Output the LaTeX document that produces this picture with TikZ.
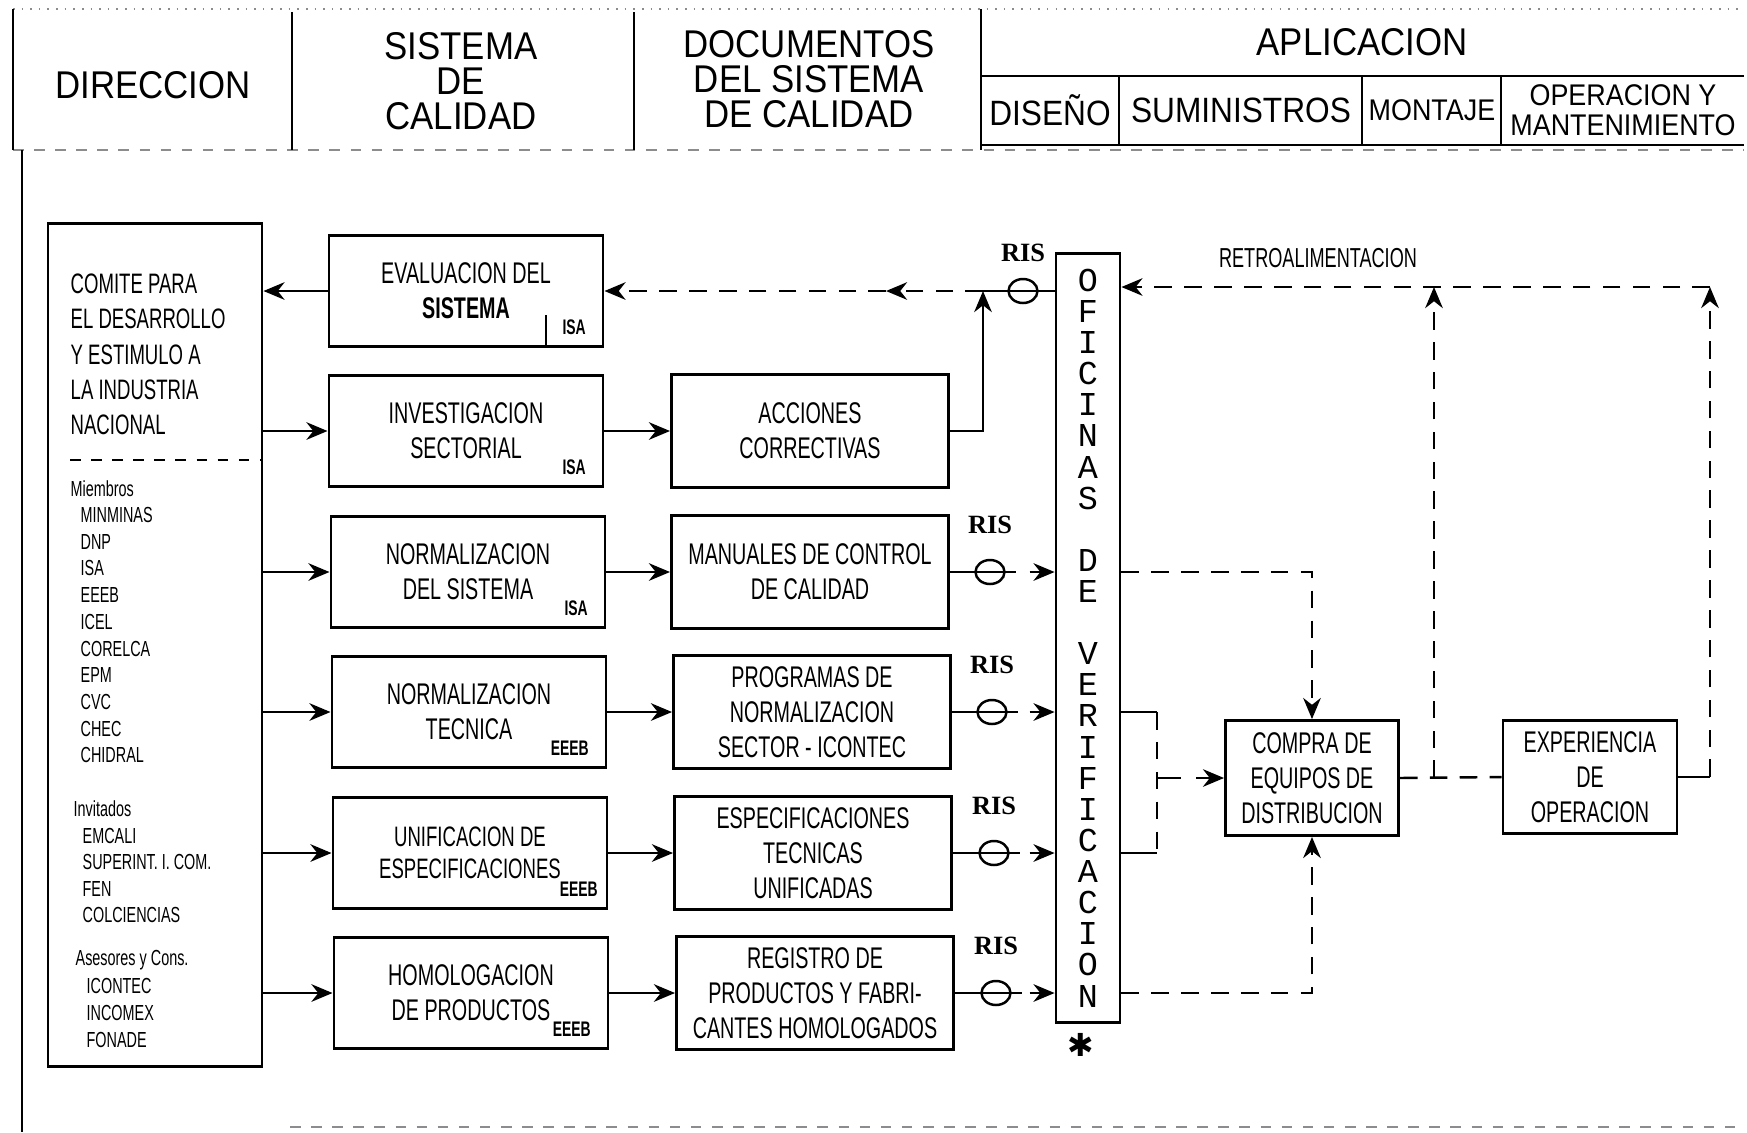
\documentclass[tikz,border=0pt]{standalone}
\usepackage{fontspec}
\setmainfont{Liberation Sans}
\newfontfamily\plotfont{Liberation Sans}[FakeStretch=0.66]
\newfontfamily\headfont{Liberation Sans}[FakeStretch=0.9]
\newfontfamily\ofifont{Liberation Mono}
\newfontfamily\risfont{Liberation Serif}
\newfontfamily\symfont{DejaVu Sans}
\usetikzlibrary{arrows.meta,positioning,shapes.geometric}
\tikzset{
  box/.style={draw,line width=0.8pt,inner sep=0pt,align=center,minimum width=2.74cm,minimum height=1.11cm,font=\plotfont\fontsize{8.5}{10}\selectfont},
  doc/.style={box,minimum width=2.77cm,minimum height=1.13cm},
  tag/.style={inner sep=0pt,font=\plotfont\bfseries\fontsize{6}{6}\selectfont},
  hd/.style={inner sep=0pt,align=center,font=\headfont\fontsize{11}{10}\selectfont},
  sub/.style={inner sep=0pt,align=center,font=\headfont\fontsize{10}{8.5}\selectfont},
  lst/.style={inner sep=0pt,anchor=west,font=\plotfont\fontsize{6.2}{7}\selectfont},
  cmt/.style={inner sep=0pt,anchor=west,font=\plotfont\fontsize{8}{10}\selectfont},
  ris/.style={draw,ellipse,line width=0.7pt,minimum width=0.29cm,minimum height=0.24cm,inner sep=0pt},
  rislab/.style={inner sep=0pt,font=\risfont\bfseries\fontsize{7.5}{8}\selectfont},
  ln/.style={line width=0.7pt},
  hair/.style={line width=0.45pt},
  arr/.style={ln,-{Stealth[length=6pt,width=5pt]}},
  dsh/.style={ln,dash pattern=on 5pt off 3.5pt},
}
\begin{document}
\begin{tikzpicture}[x=0.01cm,y=-0.01cm]
  \useasboundingbox (0,0) rectangle (1747,1132);
  \draw[hair,black!45,dotted] (13,9) -- (1744,9);
  \draw[hair,black!45,dashed] (13,150) -- (1744,150);
  \draw[hair] (13,9) -- (13,150);
  \draw[ln] (292,12) -- (292,150);
  \draw[ln] (634,12) -- (634,150);
  \draw[hair] (981,9) -- (981,150);
  \draw[hair] (981,76) -- (1744,76);
  \draw[hair] (981,145) -- (1744,145);
  \foreach \x in {1119,1362,1501} \draw[hair] (\x,76) -- (\x,145);
  \draw[hair] (22,150) -- (22,1132);
  \draw[hair,black!45,dashed] (290,1127) -- (1744,1127);

  \node[hd] (dir) at (153,85) {DIRECCION};
  \node[hd] (sis) at (461,81) {SISTEMA\\DE\\CALIDAD};
  \node[hd] (dsc) at (809,79) {DOCUMENTOS\\DEL SISTEMA\\DE CALIDAD};
  \node[hd] (apl) at (1362,42) {APLICACION};
  \node[sub] (dis) at (1050,110) {DISEÑO};
  \node[sub] (sum) at (1241,110) {SUMINISTROS};
  \node[sub,font=\headfont\fontsize{8.5}{8.5}\selectfont] (mon) at (1432,110) {MONTAJE};
  \node[sub,font=\headfont\fontsize{8.5}{8.5}\selectfont] (opm) at (1623,110) {OPERACION Y\\MANTENIMIENTO};

  \node[draw,line width=0.8pt,minimum width=2.14cm,minimum height=8.42cm] (cdi) at (155,645) {};
  \coordinate (sep) at (70,460);
  \draw[hair,dashed] (sep) -- (sep -| cdi.east);
  \foreach \t [count=\i] in {COMITE PARA,EL DESARROLLO,Y ESTIMULO A,LA INDUSTRIA,NACIONAL}
    \node[cmt] (cm\i) at (70,{284+35.2*(\i-1)}) {\t};
  \node[lst] (mie) at (70,489) {Miembros};
  \foreach \t [count=\i] in {MINMINAS,DNP,ISA,EEEB,ICEL,CORELCA,EPM,CVC,CHEC,CHIDRAL}
    \node[lst] (mi\i) at (80,{515+26.7*(\i-1)}) {\t};
  \node[lst] (inv) at (73,809) {Invitados};
  \foreach \t [count=\i] in {EMCALI,SUPERINT. I. COM.,FEN,COLCIENCIAS}
    \node[lst] (in\i) at (82,{836+26.3*(\i-1)}) {\t};
  \node[lst] (ase) at (75,960) {Asesores y Cons.};
  \foreach \t [count=\i] in {ICONTEC,INCOMEX,FONADE}
    \node[lst] (as\i) at (86,{986+27*(\i-1)}) {\t};

  \node[box] (evs) at (466,291) {EVALUACION DEL\\\textbf{SISTEMA}};
  \node[box] (ise) at (466,431) {INVESTIGACION\\SECTORIAL};
  \node[box] (nsi) at (468,572) {NORMALIZACION\\DEL SISTEMA};
  \node[box] (nte) at (469,712) {NORMALIZACION\\TECNICA};
  \node[box,font=\plotfont\fontsize{8}{10}\selectfont] (ues) at (470,853) {UNIFICACION DE\\[-1pt]ESPECIFICACIONES\hspace{0.5cm}};
  \node[box] (hpr) at (471,993) {HOMOLOGACION\\DE PRODUCTOS};
  \foreach \n/\t in {evs/ISA,ise/ISA,nsi/ISA,nte/EEEB,hpr/EEEB}
    \node[tag,anchor=south east] (tg\n) at ([xshift=-0.18cm,yshift=0.13cm]\n.south east) {\t};
  \node[tag,anchor=south east] (tgues) at ([xshift=-0.1cm,yshift=0.13cm]ues.south east) {EEEB};
  \coordinate (evk) at (546,315);
  \draw[hair] (evk) -- (evk |- evs.south);

  \node[doc] (acc) at (810,431) {ACCIONES\\CORRECTIVAS};
  \node[doc] (mcc) at (810,572) {MANUALES DE CONTROL\\DE CALIDAD};
  \node[doc] (pns) at (812,712) {PROGRAMAS DE\\NORMALIZACION\\SECTOR - ICONTEC};
  \node[doc] (etu) at (813,853) {ESPECIFICACIONES\\TECNICAS\\UNIFICADAS};
  \node[doc] (rph) at (815,993) {REGISTRO DE\\PRODUCTOS Y FABRI-\\CANTES HOMOLOGADOS};

  \node[draw,line width=0.8pt,minimum width=0.64cm,minimum height=7.69cm,inner sep=0pt,align=center,
    font=\ofifont\fontsize{9.5}{8.85}\selectfont] (ofi) at (1088,638)
    {O\\F\\I\\C\\I\\N\\A\\S\\[8.85pt]D\\E\\[8.85pt]V\\E\\R\\I\\F\\I\\C\\A\\C\\I\\O\\N};
  \node[inner sep=0pt,font=\symfont\fontsize{9}{9}\selectfont] (ast) at (1081,1045) {✱};

  \node[box,minimum width=1.73cm,minimum height=1.15cm] (ced) at (1312,778) {COMPRA DE\\EQUIPOS DE\\DISTRIBUCION};
  \node[box,minimum width=1.74cm,minimum height=1.13cm] (eop) at (1590,777) {EXPERIENCIA\\DE\\OPERACION};
  \node[inner sep=0pt,font=\plotfont\fontsize{7.8}{8}\selectfont] (ret) at (1318,258) {RETROALIMENTACION};

  \draw[arr] (evs.west) -- (evs.west -| cdi.east);
  \foreach \n in {ise,nsi,nte,ues,hpr}
    \draw[arr] (\n.west -| cdi.east) -- (\n.west);
  \foreach \a/\b in {ise/acc,nsi/mcc,nte/pns,ues/etu,hpr/rph}
    \draw[arr] (\a) -- (\b);

  \node[ris] (ris1) at (1023,291) {};
  \node[rislab,above=0.15cm of ris1] (rl1) {RIS};
  \coordinate (jn1) at (983,291);
  \coordinate (md1) at (886,291);
  \draw[ln] (jn1) -- (ris1.center) -- (ris1.center -| ofi.west);
  \draw[dsh,-{Stealth[length=6pt,width=5pt]}] (jn1) -- (md1);
  \draw[dsh,arr] (md1) -- (evs.east);
  \draw[arr] (acc.east) -| (jn1);

  \foreach \dc/\i in {mcc/3,pns/4,etu/5,rph/6} {
    \node[ris] (ris\i) at ({984+2*\i},0 |- \dc.east) {};
    \node[rislab,above=0.24cm of ris\i] (rl\i) {RIS};
    \coordinate (oa\i) at (ofi.west |- ris\i);
    \draw[ln] (\dc.east) -- (ris\i.center) -- ([xshift=0.26cm]ris\i.center);
    \draw[arr] ([xshift=-0.25cm]oa\i) -- (oa\i);
  }

  \draw[dsh,arr] (ofi.east |- nsi) -| (ced.north);
  \draw[dsh,arr] (ofi.east |- hpr) -| (ced.south);
  \coordinate (bk4) at (1157,712);
  \coordinate (bk5) at (1157,853);
  \coordinate (bkm) at (1157,778);
  \draw[ln] (ofi.east |- bk4) -- (bk4);
  \draw[ln] (ofi.east |- bk5) -- (bk5);
  \draw[dsh] (bk4) -- (bk5);
  \draw[ln] (bkm) -- ([xshift=0.24cm]bkm);
  \draw[arr] ([xshift=-0.28cm]ced.west) -- (ced.west);

  \coordinate (up1) at (1434,778);
  \coordinate (tp1) at (1434,287);
  \coordinate (up2) at (1710,777);
  \coordinate (tp2) at (1710,287);
  \draw[dsh] (ced.east) -- (eop.west);
  \draw[dsh,arr] (up1) -- (tp1);
  \draw[ln] (eop.east) -- (up2);
  \draw[dsh,arr] (up2) -- (tp2);
  \draw[dsh,arr] (tp2) -- (tp2 -| ofi.east);
\end{tikzpicture}
\end{document}
